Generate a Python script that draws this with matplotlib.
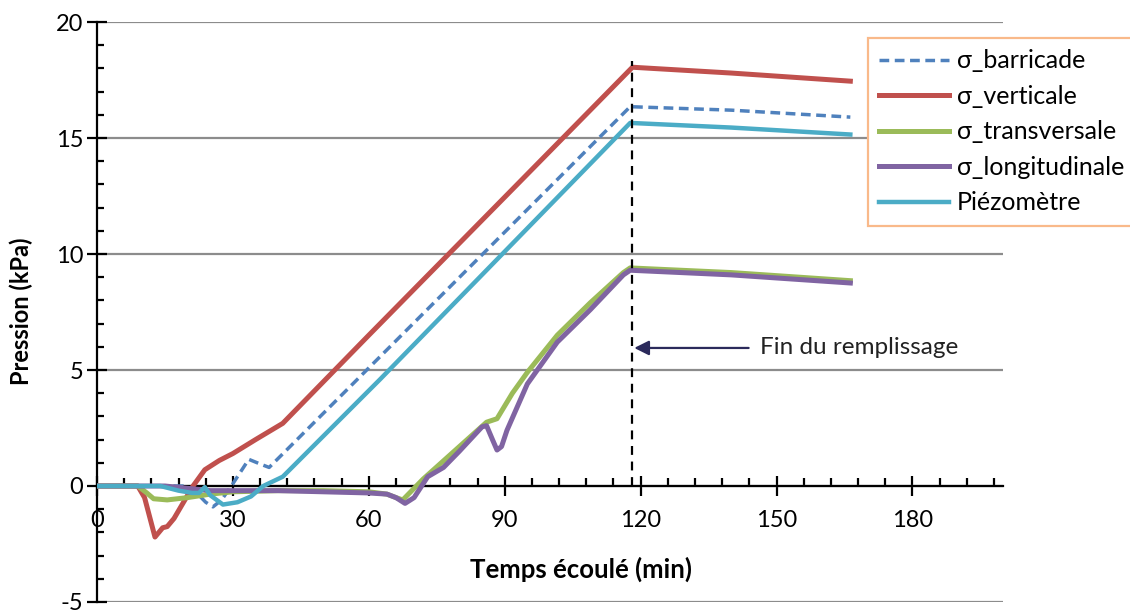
import numpy as np
import matplotlib
matplotlib.use('Agg')
import matplotlib.pyplot as plt
from matplotlib.ticker import MultipleLocator

plt.rcParams['font.family'] = ['Lato', 'DejaVu Sans']
plt.rcParams['axes.unicode_minus'] = False

# données (temps en min, pression en kPa)
t_barricade = [0, 19, 22, 24, 25.6, 27.5, 30, 33.5, 36, 38, 58, 117.7, 140, 166.3]
p_barricade = [0, 0, -0.3, -0.7, -0.9, -0.6, 0.1, 1.15, 0.95, 0.8, 4.7, 16.35, 16.2, 15.9]

t_verticale = [0, 9, 10.5, 12.8, 14.5, 15.5, 17, 18.8, 21.2, 23.8, 27, 30, 35, 41, 60, 90, 118.2, 140, 166.3]
p_verticale = [0, 0, -0.5, -2.2, -1.8, -1.75, -1.4, -0.8, 0, 0.7, 1.1, 1.4, 2.0, 2.7, 6.5, 12.45, 18.05, 17.8, 17.45]

t_transversale = [0, 9, 11, 12.5, 15.5, 20, 25, 30, 40, 50, 60, 64, 66, 67.5, 69, 72, 76, 80, 84, 86,
                  88.3, 91.7, 95, 101.6, 108.9, 116.2, 117.7, 140, 166.3]
p_transversale = [0, 0, -0.3, -0.55, -0.6, -0.5, -0.35, -0.25, -0.2, -0.2, -0.25, -0.35, -0.5, -0.6, -0.3,
                  0.3, 1.0, 1.7, 2.4, 2.75, 2.9, 4.0, 4.9, 6.5, 7.9, 9.2, 9.4, 9.2, 8.85]

t_longitudinale = [0, 15, 20, 25, 40, 60, 64, 66, 68, 70, 73, 76.5, 80, 85, 86, 87.3, 88.3, 89.3, 90.5, 95,
                   101.6, 108.9, 116.2, 117.7, 140, 166.3]
p_longitudinale = [0, 0, -0.1, -0.2, -0.2, -0.3, -0.35, -0.5, -0.75, -0.5, 0.4, 0.8, 1.5, 2.55, 2.6,
                   2.0, 1.55, 1.7, 2.4, 4.4, 6.2, 7.6, 9.1, 9.3, 9.1, 8.75]

t_piezo = [0, 14, 18, 21, 22.5, 23.8, 25, 27.8, 31, 34, 36.7, 41, 62.5, 117.7, 140, 166.3]
p_piezo = [0, 0, -0.2, -0.3, -0.3, -0.05, -0.4, -0.8, -0.7, -0.45, 0, 0.4, 4.6, 15.65, 15.45, 15.15]

# fin du remplissage
t_fin = 118.2
p_fin_haut = 18.3
p_fleche = 5.95
t_texte = 146.3

fig = plt.figure(figsize=(11.3, 6.1), dpi=100)
ax = fig.add_axes([97 / 1130, 8 / 610, 906 / 1130, 580 / 610])

ax.set_xlim(0, 200)
ax.set_ylim(-5, 20)

# grille horizontale grise
ax.yaxis.set_major_locator(MultipleLocator(5))
ax.yaxis.set_minor_locator(MultipleLocator(1))
ax.xaxis.set_major_locator(MultipleLocator(30))
ax.xaxis.set_minor_locator(MultipleLocator(6))
ax.grid(axis='y', which='major', color='#8c8c8c', lw=1.6, zorder=0)
ax.set_axisbelow(True)

# courbes
ax.plot(t_barricade, p_barricade, color='#4F81BD', lw=2.5, dashes=(2.8, 1.6), label='σ_barricade', zorder=3)
ax.plot(t_verticale, p_verticale, color='#C0504D', lw=3.6, label='σ_verticale', zorder=3)
ax.plot(t_transversale, p_transversale, color='#9BBB59', lw=3.6, label='σ_transversale', zorder=3)
ax.plot(t_longitudinale, p_longitudinale, color='#8064A2', lw=3.6, label='σ_longitudinale', zorder=3)
ax.plot(t_piezo, p_piezo, color='#4BACC6', lw=3.2, label='Piézomètre', zorder=3)

# ligne verticale et annotation
ax.plot([t_fin, t_fin], [0, p_fin_haut], color='black', lw=1.6, dashes=(4, 3), zorder=4)
ax.annotate('Fin du remplissage', xy=(t_fin + 0.4, p_fleche), xytext=(t_texte, p_fleche),
            fontsize=17.5, va='center', ha='left', color='#222222',
            arrowprops=dict(arrowstyle='-|>', color='#2B2A5B', lw=1.6, mutation_scale=22,
                            shrinkA=6, shrinkB=0))

# axes
for s in ['top', 'right']:
    ax.spines[s].set_visible(False)
ax.spines['bottom'].set_position(('data', 0))
ax.spines['bottom'].set_linewidth(1.6)
ax.spines['left'].set_linewidth(1.6)
ax.spines['bottom'].set_zorder(2)

ax.tick_params(axis='x', which='major', direction='inout', length=14, width=1.6, pad=10, labelsize=17)
ax.tick_params(axis='x', which='minor', direction='in', length=6, width=1.6)
ax.tick_params(axis='y', which='major', direction='inout', length=14, width=1.6, pad=3, labelsize=17)
ax.tick_params(axis='y', which='minor', direction='in', length=5, width=1.6)
ax.set_xticks(np.arange(0, 181, 30))

ax.text(106.9, -3.6, 'Temps écoulé (min)', fontsize=18.5, fontweight='bold', ha='center', va='center')
fig.text(21 / 1130, 0.49, 'Pression (kPa)', fontsize=17, fontweight='bold', rotation=90,
         ha='center', va='center')

leg = ax.legend(loc='upper left', bbox_to_anchor=(868 / 1130, 1 - 38 / 610), bbox_transform=fig.transFigure,
                borderaxespad=0, fontsize=18, handlelength=2.8, handletextpad=0.3, labelspacing=0.5,
                borderpad=0.45, fancybox=False, framealpha=1)
leg.get_frame().set_edgecolor('#F9B98A')
leg.get_frame().set_linewidth(1.6)

plt.savefig('out.png', dpi=100)
